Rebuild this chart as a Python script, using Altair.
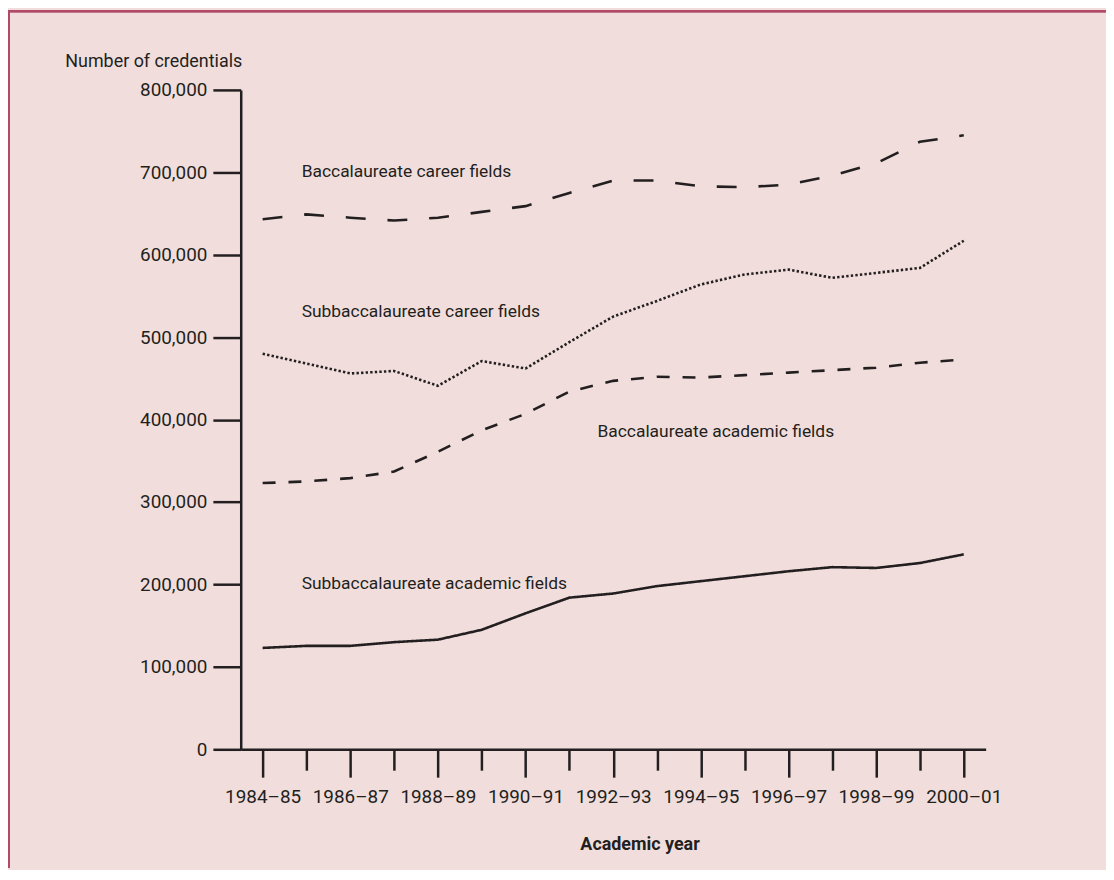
import json
import altair as alt
import pandas as pd

# ---- data ----
years = ["1984–85", "1985–86", "1986–87", "1987–88", "1988–89", "1989–90",
         "1990–91", "1991–92", "1992–93", "1993–94", "1994–95", "1995–96",
         "1996–97", "1997–98", "1998–99", "1999–00", "2000–01"]

bacc_career = [643000, 649000, 645000, 641500, 645000, 652000, 659000, 675000,
               690000, 690000, 683000, 682000, 685000, 696000, 711000, 737000, 745000]
subbacc_career = [480000, 468000, 456000, 459000, 441000, 471000, 462000, 494000,
                  525000, 544000, 564000, 576000, 582000, 572000, 578000, 584000, 617000]
bacc_academic = [323000, 325000, 329000, 337000, 361000, 387000, 407000, 434000,
                 447000, 452000, 451000, 454000, 457000, 460000, 463000, 469000, 473000]
subbacc_academic = [123000, 125500, 125500, 130000, 133000, 145000, 165000, 184000,
                    189000, 198000, 204000, 210000, 216000, 221000, 220000, 226000, 236500]

series_names = ["Baccalaureate career fields", "Subbaccalaureate career fields",
                "Baccalaureate academic fields", "Subbaccalaureate academic fields"]
series_values = [bacc_career, subbacc_career, bacc_academic, subbacc_academic]

y_ticks = [0, 100000, 200000, 300000, 400000, 500000, 600000, 700000, 800000]

# annotation anchor points (year index, value)
label_x = [0.89, 0.89, 7.64, 0.89]
label_y = [700000, 530000, 385000, 200000]

# ---- styling ----
FONT = "Roboto"
INK = "#231f20"
BG = "#f1dedc"
FRAME = "#b04a68"
dashes = [[20, 22], [2.4, 2.2], [13, 13], [1, 0]]

rows = []
for name, vals in zip(series_names, series_values):
    for i, v in enumerate(vals):
        rows.append({"series": name, "idx": i, "value": v})
df = pd.DataFrame(rows)

lab_df = pd.DataFrame({"text": series_names, "idx": label_x, "value": label_y})

label_array = json.dumps([y if i % 2 == 0 else "" for i, y in enumerate(years)],
                         ensure_ascii=False)

x_scale = alt.Scale(domain=[-0.5, 16.5], nice=False, zero=False)
y_scale = alt.Scale(domain=[0, 800000], nice=False)

x_axis = alt.Axis(
    values=list(range(len(years))),
    labelExpr=f"{label_array}[datum.value]",
    tickSize={"condition": {"test": "datum.value % 2 == 0", "value": 28}, "value": 21},
    tickWidth=2.5, tickColor=INK,
    domainWidth=2.5, domainColor=INK,
    labelFont=FONT, labelFontSize=19, labelColor=INK, labelPadding=10,
    labelFlush=False, labelOverlap=False,
    grid=False,
    title="Academic year", titleFont=FONT, titleFontSize=18, titleFontWeight="bold",
    titleColor=INK, titleX=401, titleY=96, titleBaseline="middle", titleAlign="center",
)
y_axis = alt.Axis(
    values=y_ticks, format=",.0f",
    tickSize=28, tickWidth=2.5, tickColor=INK,
    domainWidth=2.5, domainColor=INK,
    labelFont=FONT, labelFontSize=19, labelColor=INK, labelPadding=6,
    grid=False,
    title="Number of credentials", titleFont=FONT, titleFontSize=18,
    titleFontWeight="normal", titleColor=INK, titleAngle=0, titleAlign="right",
    titleBaseline="middle", titleX=1, titleY=-29,
)

X = alt.X("idx:Q", scale=x_scale, axis=x_axis)
Y = alt.Y("value:Q", scale=y_scale, axis=y_axis)

base = alt.Chart(df)
layers = []
for name, dash in zip(series_names, dashes):
    mk = base.transform_filter(alt.datum.series == name).mark_line(
        color=INK, strokeWidth=2.6, strokeDash=dash, strokeCap="butt",
        strokeJoin="miter")
    layers.append(mk.encode(x=X, y=Y))

labels = alt.Chart(lab_df).mark_text(
    align="left", baseline="middle", font=FONT, fontSize=17.5, color=INK
).encode(x=X, y=Y, text="text:N")

frame_top = alt.Chart(lab_df).mark_rule(color=FRAME, strokeWidth=2).encode(
    x=alt.value(-234), x2=alt.value(870), y=alt.value(-79))
frame_left = alt.Chart(lab_df).mark_rule(color=FRAME, strokeWidth=2).encode(
    x=alt.value(-233), y=alt.value(-80), y2=alt.value(782))

chart = alt.layer(*layers, labels, frame_top, frame_left).properties(
    width=749, height=663,
    padding={"left": 234, "top": 80, "right": 121, "bottom": 119},
    autosize=alt.AutoSizeParams(type="none"),
    background=BG,
).configure_view(stroke=None)

chart.save("out.html", embed_options={"renderer": "svg", "actions": False})
